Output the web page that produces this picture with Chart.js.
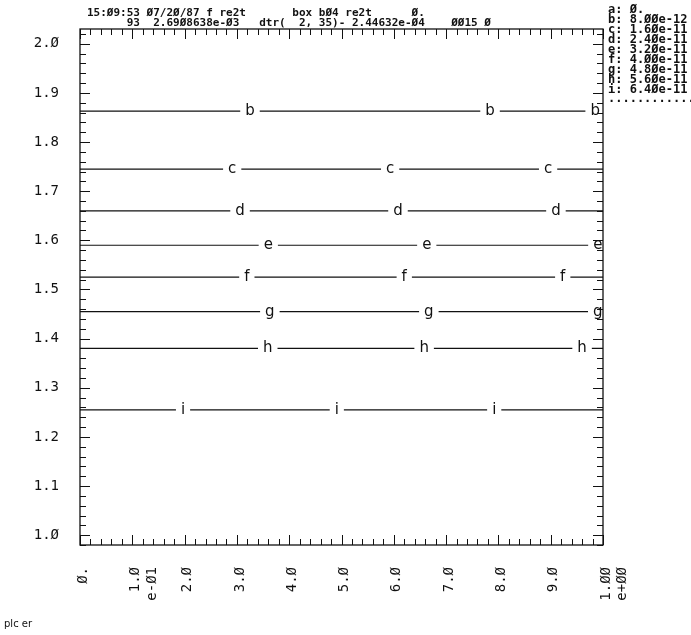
<!DOCTYPE html>
<html><head><meta charset="utf-8">
<script src="https://cdn.jsdelivr.net/npm/chart.js@4/dist/chart.umd.min.js"></script>
<style>html,body{margin:0;padding:0;background:#fff}canvas{display:block}</style>
</head><body>
<canvas id="c" width="691" height="635"></canvas>
<script>
// ---- data ----
const seriesNames  = ['b','c','d','e','f','g','h','i'];
const seriesLevels = [1.863, 1.745, 1.66, 1.59, 1.525, 1.455, 1.38, 1.255];
const labelPosB = [0.325, 0.784, 0.985];
const labelPosC = [0.291, 0.593, 0.895];
const labelPosD = [0.306, 0.608, 0.910];
const labelPosE = [0.360, 0.663, 0.990];
const labelPosF = [0.319, 0.620, 0.923];
const labelPosG = [0.363, 0.667, 0.990];
const labelPosH = [0.359, 0.658, 0.960];
const labelPosI = [0.197, 0.491, 0.792];
const labelPositions = [labelPosB, labelPosC, labelPosD, labelPosE, labelPosF, labelPosG, labelPosH, labelPosI];
const xLimits = [0, 1.0];
const yLimits = [0.98, 2.03];
const xTickValues = [0, 0.1, 0.2, 0.3, 0.4, 0.5, 0.6, 0.7, 0.8, 0.9, 1.0];
const xTickLabels = [['Ø.'], ['1.Ø','e-Ø1'], ['2.Ø'], ['3.Ø'], ['4.Ø'], ['5.Ø'], ['6.Ø'], ['7.Ø'], ['8.Ø'], ['9.Ø'], ['1.ØØ','e+ØØ']];
const yTickValues = [1.0, 1.1, 1.2, 1.3, 1.4, 1.5, 1.6, 1.7, 1.8, 1.9, 2.0];
const yTickLabels = ['1.Ø','1.1','1.2','1.3','1.4','1.5','1.6','1.7','1.8','1.9','2.Ø'];
const legendKeys   = ['a','b','c','d','e','f','g','h','i'];
const legendValues = ['Ø.','8.ØØe-12','1.6Øe-11','2.4Øe-11','3.2Øe-11','4.ØØe-11','4.8Øe-11','5.6Øe-11','6.4Øe-11'];
const headerLine1 = '15:Ø9:53 Ø7/2Ø/87 f re2t       box bØ4 re2t      Ø.';
const headerLine2 = '      93  2.69Ø8638e-Ø3   dtr(  2, 35)- 2.44632e-Ø4    ØØ15 Ø';
const footerText = 'plc er';

const MONO = '"DejaVu Sans Mono", "Liberation Mono", monospace';

const datasets = seriesNames.map((n, k) => ({
  label: n,
  data: [{x: xLimits[0], y: seriesLevels[k]}, {x: xLimits[1], y: seriesLevels[k]}],
  borderColor: '#111',
  borderWidth: 1.2,
  pointRadius: 0,
  fill: false,
  tension: 0
}));

const framePlugin = {
  id: 'frame',
  afterDatasetsDraw(chart) {
    const ctx = chart.ctx, a = chart.chartArea;
    const xs = chart.scales.x, ys = chart.scales.y;
    ctx.save();
    ctx.font = '15px "DejaVu Sans", sans-serif';
    ctx.textAlign = 'center';
    ctx.textBaseline = 'alphabetic';
    seriesNames.forEach((n, k) => {
      const py = ys.getPixelForValue(seriesLevels[k]);
      labelPositions[k].forEach(p => {
        const px = xs.getPixelForValue(p);
        const w = ctx.measureText(n).width;
        ctx.fillStyle = '#fff';
        ctx.fillRect(px - w / 2 - 5, py - 3, w + 10, 6);
        ctx.fillStyle = '#111';
        ctx.fillText(n, px, py + 4);
      });
    });
    ctx.strokeStyle = '#111';
    ctx.lineWidth = 1.3;
    ctx.strokeRect(a.left, a.top, a.right - a.left, a.bottom - a.top);
    ctx.lineWidth = 1;
    ctx.beginPath();
    for (let k = 0; k <= 50; k++) {
      const v = xLimits[0] + k * 0.02;
      const px = Math.round(xs.getPixelForValue(v)) + 0.5;
      const len = (k % 5 === 0) ? 10 : 6;
      ctx.moveTo(px, a.top); ctx.lineTo(px, a.top + len);
      ctx.moveTo(px, a.bottom); ctx.lineTo(px, a.bottom - len);
    }
    for (let k = 0; k <= 52; k++) {
      const v = 0.98 + k * 0.02;
      if (v > yLimits[1]) break;
      const py = Math.round(ys.getPixelForValue(v)) + 0.5;
      const len = ((k - 1) % 5 === 0) ? 10 : 6;
      ctx.moveTo(a.left, py); ctx.lineTo(a.left + len, py);
      ctx.moveTo(a.right, py); ctx.lineTo(a.right - len, py);
    }
    ctx.stroke();
    ctx.fillStyle = '#111';
    ctx.textAlign = 'left';
    ctx.font = 'bold 11px ' + MONO;
    ctx.fillText(headerLine1, 87, 16);
    ctx.fillText(headerLine2, 87, 26);
    ctx.font = 'bold 12px ' + MONO;
    legendKeys.forEach((k, i) => {
      ctx.fillText(k + ': ' + legendValues[i], 608, 13 + i * 10);
    });
    ctx.fillText('............', 608, 102);
    ctx.font = '10px "DejaVu Sans", sans-serif';
    ctx.fillText(footerText, 4, 627);
    ctx.restore();
  }
};

new Chart(document.getElementById('c'), {
  type: 'line',
  data: { datasets },
  options: {
    responsive: false,
    animation: false,
    devicePixelRatio: 1,
    layout: { padding: { top: 29, right: 88, left: 0, bottom: 0 } },
    plugins: { legend: { display: false }, tooltip: { enabled: false }, title: { display: false } },
    scales: {
      x: {
        type: 'linear',
        min: xLimits[0], max: xLimits[1],
        afterFit(s) { s.height = 90; },
        afterBuildTicks(s) { s.ticks = xTickValues.map(v => ({ value: v })); },
        grid: { display: false },
        border: { display: false },
        ticks: {
          autoSkip: false,
          minRotation: 90, maxRotation: 90,
          padding: 14,
          labelOffset: 3,
          color: '#111',
          font: { family: MONO, size: 14 },
          callback(v, i) { return xTickLabels[i]; }
        }
      },
      y: {
        type: 'linear',
        min: yLimits[0], max: yLimits[1],
        afterFit(s) { s.width = 80; },
        afterBuildTicks(s) { s.ticks = yTickValues.map(v => ({ value: v })); },
        grid: { display: false },
        border: { display: false },
        ticks: {
          autoSkip: false,
          padding: 13,
          color: '#111',
          font: { family: MONO, size: 14 },
          callback(v, i) { return yTickLabels[i]; }
        }
      }
    }
  },
  plugins: [framePlugin]
});
</script>
</body></html>
